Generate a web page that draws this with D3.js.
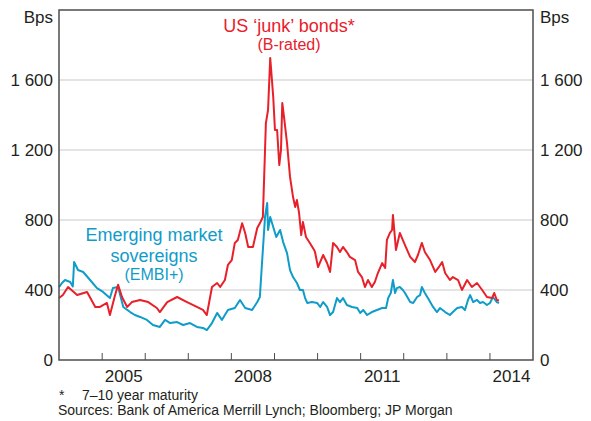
<!DOCTYPE html>
<html>
<head>
<meta charset="utf-8">
<script src="https://cdn.jsdelivr.net/npm/d3@7"></script>
<style>
  body { margin: 0; background: #fff; }
  svg text { font-family: "Liberation Sans", Arial, sans-serif; fill: #231f20; }
</style>
</head>
<body>
<div id="chart"></div>
<script>
// spreads, decimal years and basis points
var junkYears = [2004.00,2004.09,2004.21,2004.42,2004.65,2004.84,2004.95,2005.11,2005.18,2005.30,2005.37,2005.46,2005.58,2005.69,2005.88,2006.07,2006.27,2006.34,2006.51,2006.74,2006.97,2007.20,2007.34,2007.43,2007.55,2007.67,2007.74,2007.85,2007.92,2008.01,2008.08,2008.15,2008.25,2008.32,2008.39,2008.50,2008.60,2008.66,2008.73,2008.78,2008.80,2008.85,2008.90,2008.94,2008.97,2009.01,2009.06,2009.11,2009.15,2009.18,2009.22,2009.29,2009.36,2009.43,2009.48,2009.52,2009.57,2009.62,2009.66,2009.73,2009.82,2009.92,2009.94,2010.01,2010.13,2010.22,2010.29,2010.36,2010.45,2010.52,2010.59,2010.68,2010.75,2010.87,2010.94,2011.03,2011.10,2011.17,2011.26,2011.33,2011.40,2011.50,2011.57,2011.61,2011.68,2011.73,2011.75,2011.82,2011.91,2012.03,2012.15,2012.26,2012.33,2012.42,2012.49,2012.61,2012.73,2012.80,2012.89,2012.96,2013.07,2013.14,2013.26,2013.35,2013.47,2013.58,2013.70,2013.82,2013.93,2014.05,2014.10,2014.16,2014.21];
var junkBps = [354,371,417,371,389,303,303,326,257,371,430,360,303,331,343,331,297,274,331,360,331,303,286,257,417,440,417,457,543,571,669,686,781,726,646,646,754,781,817,1200,1354,1429,1726,1600,1503,1314,1314,1114,1200,1469,1389,1240,1046,931,874,914,840,714,789,703,669,629,617,531,600,554,503,669,646,617,646,617,589,571,503,474,417,457,417,446,497,554,526,686,726,743,829,629,726,657,589,560,600,669,617,571,503,526,560,497,457,474,457,400,457,417,440,400,360,354,383,343,340];

var embiYears = [2004.00,2004.07,2004.14,2004.26,2004.32,2004.35,2004.44,2004.56,2004.72,2004.88,2005.02,2005.18,2005.25,2005.37,2005.49,2005.65,2005.76,2005.88,2006.04,2006.18,2006.34,2006.46,2006.58,2006.74,2006.88,2007.04,2007.20,2007.34,2007.43,2007.55,2007.67,2007.78,2007.92,2008.08,2008.20,2008.32,2008.48,2008.60,2008.66,2008.71,2008.78,2008.83,2008.85,2008.90,2008.97,2009.04,2009.13,2009.20,2009.29,2009.36,2009.43,2009.52,2009.59,2009.66,2009.71,2009.76,2009.87,2009.99,2010.06,2010.13,2010.22,2010.29,2010.36,2010.45,2010.52,2010.59,2010.68,2010.80,2010.92,2010.99,2011.06,2011.15,2011.26,2011.38,2011.50,2011.59,2011.64,2011.70,2011.75,2011.80,2011.84,2011.91,2011.98,2012.03,2012.15,2012.22,2012.31,2012.38,2012.42,2012.49,2012.56,2012.68,2012.77,2012.84,2012.96,2013.07,2013.14,2013.24,2013.35,2013.42,2013.49,2013.54,2013.61,2013.70,2013.77,2013.84,2013.93,2014.00,2014.07,2014.16,2014.21];
var embiBps = [417,440,457,446,420,560,514,503,457,411,389,354,411,417,303,274,257,246,229,200,189,229,211,217,200,211,189,183,171,211,269,229,286,297,343,297,286,331,360,554,817,897,743,817,760,703,743,674,611,514,474,440,400,400,354,326,331,326,303,331,303,257,274,354,331,354,314,303,297,269,286,257,274,286,297,297,354,383,457,383,411,417,400,383,331,326,360,371,417,383,354,303,274,297,274,257,274,297,303,286,343,371,331,343,326,331,314,326,360,331,326];

var yTicks = [0, 400, 800, 1200, 1600];
var yearLabels = [2005, 2008, 2011, 2014];
var yearTicks = [2005, 2006, 2007, 2008, 2009, 2010, 2011, 2012, 2013, 2014];

var red = '#e8202a';
var blue = '#0f9cc9';

var width = 591, height = 421;
var plotLeft = 59, plotRight = 533, plotTop = 10, plotBottom = 360;

var toDate = function(yv){
	var yr = Math.floor(yv);
	var start = new Date(yr, 0, 1), end = new Date(yr + 1, 0, 1);
	return new Date(start.getTime() + (yv - yr)*(end - start));
};

var x = d3.scaleTime()
	.domain([new Date(2004, 0, 1), new Date(2015, 0, 1)])
	.range([plotLeft, plotRight]);
var y = d3.scaleLinear()
	.domain([0, 2000])
	.range([plotBottom, plotTop]);

var svg = d3.select('#chart').append('svg')
	.attr('width', width)
	.attr('height', height);

// gridlines
svg.selectAll('line.grid')
	.data(yTicks.slice(1)).enter()
	.append('line')
	.attr('class', 'grid')
	.attr('x1', plotLeft).attr('x2', plotRight)
	.attr('y1', function(d){ return y(d); })
	.attr('y2', function(d){ return y(d); })
	.attr('stroke', '#c9c9c9')
	.attr('stroke-width', 1);

// year ticks pointing up from the bottom
svg.selectAll('line.xtick')
	.data(yearTicks).enter()
	.append('line')
	.attr('class', 'xtick')
	.attr('x1', function(d){ return x(new Date(d, 0, 1)); })
	.attr('x2', function(d){ return x(new Date(d, 0, 1)); })
	.attr('y1', plotBottom)
	.attr('y2', plotBottom - 7)
	.attr('stroke', '#4d4d4d')
	.attr('stroke-width', 1);

var line = function(years, vals){
	return d3.line()
		.x(function(d, i){ return x(toDate(years[i])); })
		.y(function(d){ return y(d); })(vals);
};

svg.append('path')
	.attr('d', line(embiYears, embiBps))
	.attr('fill', 'none')
	.attr('stroke', blue)
	.attr('stroke-width', 2)
	.attr('stroke-linejoin', 'round');

svg.append('path')
	.attr('d', line(junkYears, junkBps))
	.attr('fill', 'none')
	.attr('stroke', red)
	.attr('stroke-width', 2)
	.attr('stroke-linejoin', 'round');

// frame
svg.append('rect')
	.attr('x', plotLeft).attr('y', plotTop)
	.attr('width', plotRight - plotLeft).attr('height', plotBottom - plotTop)
	.attr('fill', 'none')
	.attr('stroke', '#4d4d4d')
	.attr('stroke-width', 1.5);

var fmt = function(d){ return d >= 1000 ? String(d).slice(0, 1) + ' ' + String(d).slice(1) : String(d); };

svg.selectAll('text.yl')
	.data(yTicks).enter()
	.append('text')
	.attr('class', 'yl')
	.attr('x', plotLeft - 6)
	.attr('y', function(d){ return y(d) + 6; })
	.attr('text-anchor', 'end')
	.attr('font-size', 17)
	.text(fmt);
svg.selectAll('text.yr')
	.data(yTicks).enter()
	.append('text')
	.attr('class', 'yr')
	.attr('x', plotRight + 7)
	.attr('y', function(d){ return y(d) + 6; })
	.attr('text-anchor', 'start')
	.attr('font-size', 17)
	.text(fmt);

svg.append('text').attr('x', plotLeft - 6).attr('y', 23)
	.attr('text-anchor', 'end').attr('font-size', 17).text('Bps');
svg.append('text').attr('x', plotRight + 7).attr('y', 23)
	.attr('text-anchor', 'start').attr('font-size', 17).text('Bps');

svg.selectAll('text.xl')
	.data(yearLabels).enter()
	.append('text')
	.attr('class', 'xl')
	.attr('x', function(d){ return (x(new Date(d, 0, 1)) + x(new Date(d + 1, 0, 1)))/2; })
	.attr('y', 382)
	.attr('text-anchor', 'middle')
	.attr('font-size', 17)
	.text(function(d){ return d; });

// series labels
svg.append('text').attr('x', 289).attr('y', 32)
	.attr('text-anchor', 'middle').attr('font-size', 18)
	.style('fill', red).text('US \u2018junk\u2019 bonds*');
svg.append('text').attr('x', 289).attr('y', 50)
	.attr('text-anchor', 'middle').attr('font-size', 16)
	.style('fill', red).text('(B-rated)');

svg.append('text').attr('x', 154).attr('y', 241)
	.attr('text-anchor', 'middle').attr('font-size', 18)
	.style('fill', blue).text('Emerging market');
svg.append('text').attr('x', 154).attr('y', 262)
	.attr('text-anchor', 'middle').attr('font-size', 18)
	.style('fill', blue).text('sovereigns');
svg.append('text').attr('x', 154).attr('y', 280)
	.attr('text-anchor', 'middle').attr('font-size', 16)
	.style('fill', blue).text('(EMBI+)');

// notes
svg.append('text').attr('x', 59).attr('y', 400).attr('font-size', 14).text('*');
svg.append('text').attr('x', 82).attr('y', 400).attr('font-size', 14).text('7\u201310 year maturity');
svg.append('text').attr('x', 58).attr('y', 415).attr('font-size', 14)
	.text('Sources: Bank of America Merrill Lynch; Bloomberg; JP Morgan');
</script>
</body>
</html>
